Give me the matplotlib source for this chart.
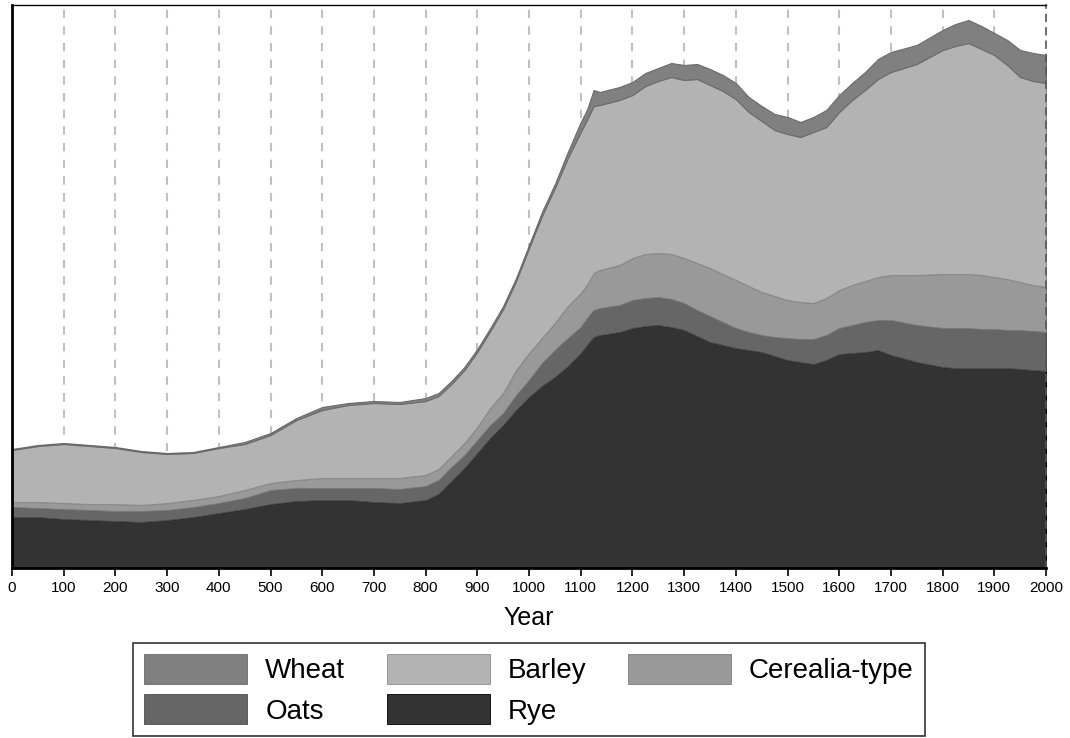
import matplotlib
matplotlib.use("Agg")
import matplotlib.pyplot as plt
from matplotlib.patches import Patch

plt.rcParams['font.family'] = ['Liberation Sans', 'DejaVu Sans']

# years sampled along the record
years = [0, 50, 100, 150, 200, 250, 300, 350, 400, 450, 500, 550, 600, 650, 700, 750, 800,
         825, 850, 875, 900, 925, 950, 975, 1000, 1025, 1050, 1075, 1100, 1112, 1125, 1137, 1175,
         1200, 1225, 1250, 1275, 1300, 1325, 1350, 1375, 1400, 1425, 1450, 1475, 1500, 1525,
         1550, 1575, 1600, 1625, 1650, 1675, 1700,
         1750, 1800, 1825, 1850, 1875, 1900, 1925, 1950, 1975, 2000]

# layer thickness per taxon (stacked bottom -> top: rye, oats, cerealia, barley, wheat)
rye = [51, 51, 49, 48, 47, 46, 48, 51, 55, 59, 64, 67, 68, 68, 66, 65, 68,
       74, 87, 100, 115, 130, 143, 158, 171, 182, 191, 202, 215, 223, 231, 233, 236,
       240, 242, 243, 241, 238, 232, 226, 223, 220, 218, 216, 212, 208, 206, 204, 208, 214,
       215, 216, 218, 213,
       206, 201, 200, 200, 200, 200, 200, 199, 198, 197]
oats = [10, 9, 10, 10, 10, 11, 10, 10, 10, 11, 14, 13, 12, 12, 14, 14, 14,
        14, 14, 13, 13, 13, 12, 15, 17, 23, 27, 28, 26, 27, 27, 27, 27,
        28, 28, 28, 28, 27, 26, 26, 23, 20, 18, 17, 19, 22, 23, 25, 25, 26, 28, 30, 30, 35,
        37, 39, 40, 40, 39, 39, 38, 39, 39, 39]
cerealia = [5, 6, 6, 6, 7, 6, 7, 7, 7, 8, 7, 8, 10, 10, 10, 11, 11,
            11, 11, 12, 13, 17, 20, 25, 27, 25, 27, 32, 34, 33, 37, 38, 40,
            42, 44, 44, 45, 45, 47, 48, 48, 48, 46, 43, 41, 38, 37, 36, 37, 38, 40, 41, 43, 45,
            50, 54, 54, 54, 54, 52, 51, 48, 46, 45]
barley = [52, 56, 59, 58, 56, 53, 49, 47, 48, 46, 48, 60, 68, 73, 75, 74, 74,
          73, 72, 73, 75, 77, 84, 89, 105, 122, 135, 148, 161, 165, 167, 165, 165,
          163, 168, 172, 177, 178, 184, 183, 183, 181, 174, 171, 166, 166, 165, 171, 171, 178,
          185, 191, 198, 203,
          211, 224, 228, 231, 226, 222, 214, 205, 204, 204]
wheat = [1, 1, 1, 1, 1, 1, 1, 1, 1, 2, 2, 2, 3, 2, 2, 2, 3,
         3, 3, 3, 3, 3, 3, 3, 3, 4, 4, 6, 10, 10, 16, 13, 13,
         13, 13, 13, 14, 15, 15, 16, 16, 16, 15, 15, 16, 17, 15, 15, 17, 17, 17, 18, 20, 20,
         19, 20, 22, 23, 23, 22, 25, 27, 28, 28]

names = ["Rye", "Oats", "Cerealia-type", "Barley", "Wheat"]
fills = ["#333333", "#666666", "#999999", "#b3b3b3", "#808080"]
edges = ["#000000", "#4d4d4d", "#7a7a7a", "#8c8c8c", "#6a6a6a"]

fig = plt.figure(figsize=(10.7, 7.38), dpi=100)
ax = fig.add_axes([12 / 1070, 1 - 568 / 738, 1034 / 1070, 563 / 738])

for x in range(100, 2000, 100):
    ax.axvline(x, color="#c0c0c0", lw=1.5, ls=(0, (4, 4)), zorder=0)

polys = ax.stackplot(years, rye, oats, cerealia, barley, wheat, colors=fills, zorder=2)
for p, ec in zip(polys, edges):
    p.set_edgecolor(ec)
    p.set_linewidth(0.8)

ax.set_xlim(0, 2000)
ax.set_ylim(0, 563)
ax.set_xticks(range(0, 2001, 100))
ax.tick_params(axis="x", direction="out", length=6, width=1.2, labelsize=11, pad=3)
ax.set_yticks([])
ax.set_xlabel("Year", fontsize=18, labelpad=8)

ax.spines["left"].set_linewidth(2)
ax.spines["bottom"].set_linewidth(2)
ax.spines["top"].set_linewidth(1)
ax.spines["right"].set_linestyle((0, (4, 4)))
ax.spines["right"].set_color("#555555")
ax.spines["right"].set_linewidth(1.2)

handles = {n: Patch(facecolor=f, edgecolor=e, lw=0.6) for n, f, e in zip(names, fills, edges)}
order = ["Wheat", "Oats", "Barley", "Rye", "Cerealia-type"]
leg = fig.legend([handles[n] for n in order], order, ncol=3, loc="upper center",
                 bbox_to_anchor=(529 / 1070, 1 - 643 / 738), bbox_transform=fig.transFigure,
                 fontsize=20, frameon=True, fancybox=False, edgecolor="black",
                 handlelength=3.7, handleheight=1.28, handletextpad=0.65, columnspacing=1.5,
                 borderaxespad=0, borderpad=0.4, labelspacing=0.36)
leg.get_frame().set_linewidth(1.2)

fig.savefig("out.png", dpi=100)
